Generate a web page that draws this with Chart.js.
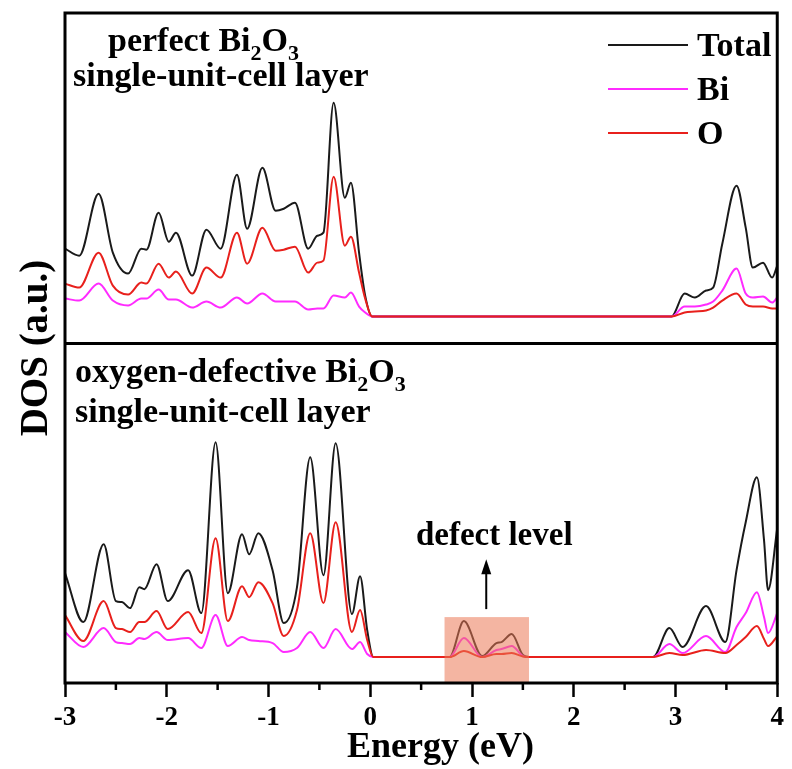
<!DOCTYPE html>
<html>
<head>
<meta charset="utf-8">
<script src="https://cdn.jsdelivr.net/npm/chart.js"></script>
<style>
  html, body { margin: 0; padding: 0; background: #fff; }
  canvas { display: block; }
</style>
</head>
<body>
<canvas id="dosChart" width="792" height="769"></canvas>
<script>
// DOS (a.u.), energy in eV
// upper panel: perfect Bi2O3
const topEnergy = [-3.00, -2.86, -2.67, -2.53, -2.38, -2.25, -2.20, -2.08, -1.98, -1.91, -1.75, -1.61, -1.47, -1.31, -1.21, -1.06, -0.93, -0.85, -0.74, -0.61, -0.52, -0.46, -0.36, -0.25, -0.19, -0.11, -0.05, 0.02, 2.96, 3.09, 3.19, 3.30, 3.37, 3.46, 3.60, 3.69, 3.76, 3.86, 3.95, 4.00];
const topTotal  = [68, 61, 123, 64, 43, 68, 67, 104, 75, 84, 41, 87, 68, 142, 88, 149, 106, 108, 114, 68, 81, 84, 214, 119, 134, 64, 21, 0, 0, 23, 19, 26, 29, 73, 131, 89, 49, 54, 39, 51];
const topBi     = [18, 16, 33, 16, 11, 18, 18, 27, 17, 17, 9, 15, 9, 19, 13, 23, 15, 15, 15, 7, 8, 8, 21, 19, 24, 10, 4, 0, 0, 10, 10, 12, 15, 26, 48, 23, 19, 20, 14, 19];
const topO      = [33, 29, 64, 31, 22, 34, 33, 53, 39, 45, 23, 49, 39, 84, 53, 89, 66, 67, 70, 44, 54, 56, 140, 71, 80, 44, 18, 0, 0, 4, 5, 6, 9, 16, 23, 12, 10, 10, 8, 8];

// lower panel: oxygen-defective Bi2O3
const botEnergy = [-3.00, -2.82, -2.62, -2.50, -2.44, -2.36, -2.27, -2.22, -2.10, -1.99, -1.79, -1.66, -1.52, -1.40, -1.26, -1.19, -1.10, -0.96, -0.85, -0.72, -0.59, -0.46, -0.34, -0.18, -0.10, -0.03, 0.03, 0.78, 0.92, 1.10, 1.24, 1.29, 1.39, 1.50, 1.56, 2.78, 2.94, 3.07, 3.30, 3.49, 3.60, 3.69, 3.80, 3.87, 3.91, 4.00];
const botTotal  = [84, 35, 113, 56, 55, 49, 70, 68, 93, 56, 87, 44, 215, 64, 123, 103, 124, 87, 34, 70, 200, 82, 214, 43, 81, 27, 0, 0, 36, 1, 14, 15, 23, 2, 0, 0, 29, 10, 51, 15, 87, 135, 180, 117, 67, 129];
const botBi     = [25, 10, 29, 15, 14, 13, 19, 18, 25, 17, 19, 9, 42, 11, 20, 17, 16, 14, 5, 9, 25, 9, 28, 8, 15, 3, 0, 0, 19, 0, 7, 8, 11, 1, 0, 0, 13, 4, 21, 5, 30, 44, 65, 40, 24, 44];
const botO      = [42, 16, 56, 29, 28, 25, 35, 35, 46, 28, 45, 24, 119, 36, 71, 60, 75, 54, 21, 47, 124, 54, 135, 25, 47, 17, 0, 0, 6, 0, 3, 3, 4, 0.5, 0, 0, 4, 2, 7, 4, 12, 20, 31, 18, 11, 21];

const seriesNames = ['Total', 'Bi', 'O'];
const seriesColors = ['#1a1a1a', '#ff2bff', '#e8201c'];
const xTickValues = [-3, -2, -1, 0, 1, 2, 3, 4];

const serif = '"Liberation Serif", "Times New Roman", serif';

function pts(xs, ys) {
  return xs.map((x, i) => ({ x: x, y: ys[i] }));
}

function line(label, color, data, axis, order) {
  return {
    label: label,
    data: data,
    yAxisID: axis,
    borderColor: color,
    borderWidth: 2,
    pointRadius: 0,
    fill: false,
    cubicInterpolationMode: 'monotone',
    order: order
  };
}

// text with chemical subscripts, parts = [[text, isSub], ...]
function chemText(ctx, parts, x, y) {
  parts.forEach(p => {
    ctx.font = p[1] ? 'bold 22px ' + serif : 'bold 34px ' + serif;
    ctx.fillText(p[0], x, p[1] ? y + 9 : y);
    x += ctx.measureText(p[0]).width;
  });
}

const decor = {
  id: 'decor',
  afterDatasetsDraw(chart) {
    const ctx = chart.ctx;
    const xs = chart.scales.x, yb = chart.scales.yBot;
    // shaded defect-level box
    const x0 = xs.getPixelForValue(0.73), x1 = xs.getPixelForValue(1.56);
    const yTopBox = yb.getPixelForValue(40);
    ctx.save();
    ctx.fillStyle = 'rgba(235,120,85,0.55)';
    ctx.fillRect(x0, yTopBox, x1 - x0, chart.chartArea.bottom - yTopBox);
    ctx.restore();
  },
  afterDraw(chart) {
    const ctx = chart.ctx;
    const a = chart.chartArea;
    const xs = chart.scales.x, yt = chart.scales.yTop, yb = chart.scales.yBot;
    ctx.save();

    // frame and panel divider
    ctx.strokeStyle = '#000';
    ctx.lineWidth = 3;
    ctx.strokeRect(a.left, a.top, a.right - a.left, a.bottom - a.top);
    ctx.beginPath();
    ctx.moveTo(a.left, yt.bottom);
    ctx.lineTo(a.right, yt.bottom);
    ctx.stroke();

    // minor ticks
    ctx.lineWidth = 2.5;
    for (let k = -3; k < 4; k++) {
      const px = xs.getPixelForValue(k + 0.5);
      ctx.beginPath();
      ctx.moveTo(px, a.bottom);
      ctx.lineTo(px, a.bottom + 7);
      ctx.stroke();
    }

    ctx.fillStyle = '#000';
    ctx.textAlign = 'left';
    ctx.textBaseline = 'alphabetic';

    // panel labels
    chemText(ctx, [['perfect Bi', 0], ['2', 1], ['O', 0], ['3', 1]], 108, 51);
    chemText(ctx, [['single-unit-cell layer', 0]], 73, 86);
    chemText(ctx, [['oxygen-defective Bi', 0], ['2', 1], ['O', 0], ['3', 1]], 75, 382);
    chemText(ctx, [['single-unit-cell layer', 0]], 75, 422);

    // legend
    const legendY = [45, 89, 133];
    seriesNames.forEach((name, i) => {
      ctx.strokeStyle = seriesColors[i];
      ctx.lineWidth = 2;
      ctx.beginPath();
      ctx.moveTo(608, legendY[i]);
      ctx.lineTo(688, legendY[i]);
      ctx.stroke();
      ctx.font = 'bold 34px ' + serif;
      ctx.fillText(name, 697, legendY[i] + 11);
    });

    // defect level annotation
    const ax = xs.getPixelForValue(1.14);
    const yStart = yb.getPixelForValue(48), yTip = yb.getPixelForValue(98);
    ctx.strokeStyle = '#000';
    ctx.lineWidth = 2;
    ctx.beginPath();
    ctx.moveTo(ax, yStart);
    ctx.lineTo(ax, yTip + 12);
    ctx.stroke();
    ctx.beginPath();
    ctx.moveTo(ax, yTip);
    ctx.lineTo(ax - 5, yTip + 15);
    ctx.lineTo(ax + 5, yTip + 15);
    ctx.closePath();
    ctx.fill();
    ctx.font = 'bold 33px ' + serif;
    ctx.textAlign = 'center';
    ctx.fillText('defect level', ax + 8, 545);

    // x axis title
    ctx.font = 'bold 36px ' + serif;
    ctx.fillText('Energy (eV)', xs.getPixelForValue(0.69), 757);

    // y axis title
    ctx.translate(37, (a.top + a.bottom) / 2);
    ctx.rotate(-Math.PI / 2);
    ctx.textBaseline = 'middle';
    ctx.font = 'bold 39px ' + serif;
    ctx.fillText('DOS (a.u.)', 0, 0);
    ctx.restore();
  }
};

const noAxisDecor = {
  ticks: { display: false },
  grid: { display: false, drawTicks: false },
  border: { display: false },
  title: { display: false }
};

new Chart(document.getElementById('dosChart').getContext('2d'), {
  type: 'line',
  data: {
    datasets: [
      line(seriesNames[0], seriesColors[0], pts(topEnergy, topTotal), 'yTop', 3),
      line(seriesNames[1], seriesColors[1], pts(topEnergy, topBi), 'yTop', 2),
      line(seriesNames[2], seriesColors[2], pts(topEnergy, topO), 'yTop', 1),
      line(seriesNames[0], seriesColors[0], pts(botEnergy, botTotal), 'yBot', 3),
      line(seriesNames[1], seriesColors[1], pts(botEnergy, botBi), 'yBot', 2),
      line(seriesNames[2], seriesColors[2], pts(botEnergy, botO), 'yBot', 1)
    ]
  },
  options: {
    responsive: false,
    animation: false,
    devicePixelRatio: 1,
    layout: { padding: { left: 65, right: 14, top: 13, bottom: 29 } },
    plugins: {
      legend: { display: false },
      tooltip: { enabled: false }
    },
    scales: {
      x: {
        type: 'linear',
        min: -3,
        max: 4,
        afterBuildTicks: s => { s.ticks = xTickValues.map(v => ({ value: v })); },
        ticks: {
          color: '#000',
          maxRotation: 0,
          padding: 8,
          font: { family: serif, size: 27, weight: 'bold', lineHeight: 1 }
        },
        grid: {
          drawOnChartArea: false,
          drawTicks: true,
          tickLength: 14,
          tickWidth: 2.5,
          tickColor: '#000'
        },
        border: { display: false },
        title: { display: false }
      },
      yBot: Object.assign({
        type: 'linear', position: 'left', stack: 'dos', stackWeight: 340,
        min: -26, max: 314,
        afterFit: s => { s.width = 0; }
      }, noAxisDecor),
      yTop: Object.assign({
        type: 'linear', position: 'left', stack: 'dos', stackWeight: 331,
        min: -27, max: 304,
        afterFit: s => { s.width = 0; }
      }, noAxisDecor)
    }
  },
  plugins: [decor]
});
</script>
</body>
</html>
